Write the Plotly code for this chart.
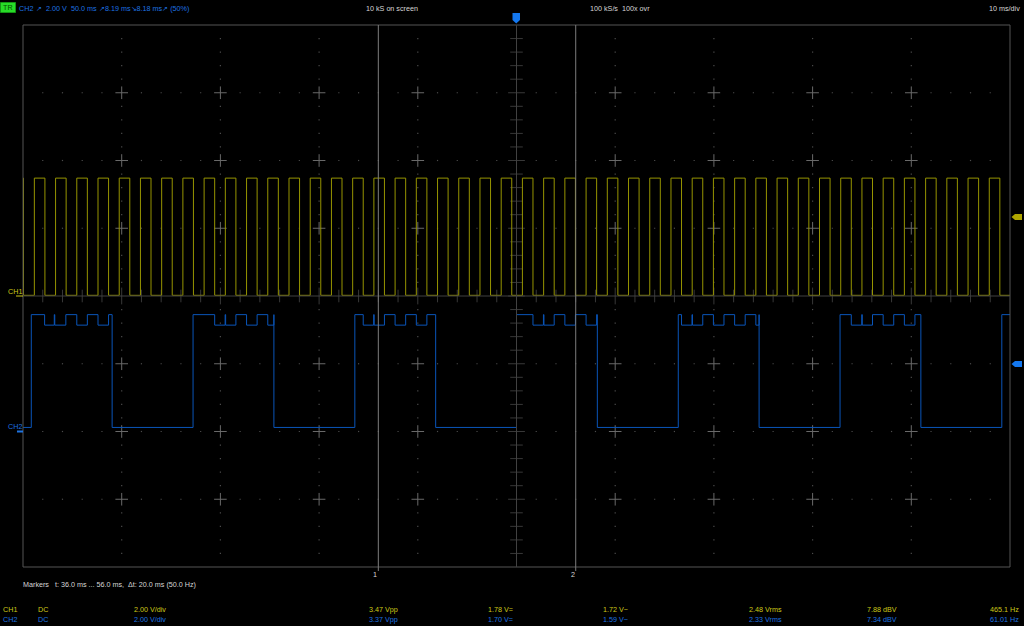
import plotly.graph_objects as go

# ---------------- data ----------------
T_RANGE = [0.0, 100.0]          # ms, 10 ms/div
DIV_RANGE = [-4.0, 4.0]         # vertical divisions
VOLT_PER_DIV = 2.0
CH1_OFFSET_DIV = 0.0
CH2_OFFSET_DIV = -2.0

ch1_low_v = 0.02
ch1_high_v = 3.48
ch1_rise_ms = [1.15, 3.30, 5.45, 7.60, 9.75, 11.90, 14.05, 16.20, 18.35, 20.50,
               22.65, 24.80, 26.95, 29.10, 31.25, 33.40, 35.55, 37.70, 39.85, 42.00,
               44.15, 46.30, 48.45, 50.60, 52.75, 54.90, 57.05, 59.20, 61.35, 63.50,
               65.65, 67.80, 69.95, 72.10, 74.25, 76.40, 78.55, 80.70, 82.85, 85.00,
               87.15, 89.30, 91.45, 93.60, 95.75, 97.90]
ch1_fall_ms = [2.22, 4.37, 6.52, 8.67, 10.82, 12.97, 15.12, 17.27, 19.42, 21.57,
               23.72, 25.87, 28.02, 30.17, 32.32, 34.47, 36.62, 38.77, 40.92, 43.07,
               45.22, 47.37, 49.52, 51.67, 53.82, 55.97, 58.12, 60.27, 62.42, 64.57,
               66.72, 68.87, 71.02, 73.17, 75.32, 77.47, 79.62, 81.77, 83.92, 86.07,
               88.22, 90.37, 92.52, 94.67, 96.82, 98.97]
ch1_first_fall_ms = 0.05

ch2_low_v = 0.12
ch2_high_v = 3.45
ch2_dip_v = 3.14
ch2_rise_ms = [0.84, 17.23, 33.62, 50.00, 66.39, 82.78, 99.17]
ch2_fall_ms = [9.03, 25.42, 41.81, 58.19, 74.58, 90.97]
# ripple dips on the CH2 high level, one list per high segment (start, end in ms)
ch2_dips_ms = [
    [(2.19, 3.17), (3.22, 4.34), (5.45, 6.52), (7.60, 8.67)],
    [(19.42, 20.48), (20.53, 21.57), (22.65, 23.72), (24.80, 25.42)],
    [(34.47, 35.53), (35.58, 36.62), (37.70, 38.77), (39.85, 40.92)],
    [(51.67, 52.73), (52.78, 53.82), (54.90, 55.97), (57.05, 58.12)],
    [(66.72, 67.78), (67.83, 68.87), (69.95, 71.02), (72.10, 73.17), (74.25, 74.58)],
    [(83.92, 84.98), (85.03, 86.07), (87.15, 88.22), (89.30, 90.37)],
    [],
]

markers_ms = [36.0, 56.0]
marker_labels = ["1", "2"]

header_items = [
    ("CH2", 19, "blue"), ("\u2197", 36, "blue"), ("2.00 V", 46, "blue"),
    ("50.0 ms", 71, "blue"), ("\u21978.19 ms\u21988.18 ms\u2197 (50%)", 99, "blue"),
    ("10 kS on screen", 366, "white"), ("100 kS/s  100x ovr", 590, "white"),
]
header_right = "10 ms/div"

meas_cols_x = [3, 38, 134, 369, 488, 603, 749, 867, 990]
ch1_meas = ["CH1", "DC", "2.00 V/div", "3.47 Vpp", "1.78 V=", "1.72 V~", "2.48 Vrms", "7.88 dBV", "465.1 Hz"]
ch2_meas = ["CH2", "DC", "2.00 V/div", "3.37 Vpp", "1.70 V=", "1.59 V~", "2.33 Vrms", "7.34 dBV", "61.01 Hz"]
markers_text = "Markers   t: 36.0 ms ... 56.0 ms,  \u0394t: 20.0 ms (50.0 Hz)"

# ---------------- styles ----------------
W, H = 1024, 626
L, R, T, B = 23, 1010, 25, 567
YEL_TRACE = "rgb(150,148,0)"
BLUE_TRACE = "rgb(10,85,185)"
YEL_TXT = "rgb(205,200,25)"
BLUE_TXT = "rgb(30,115,225)"
WHITE_TXT = "rgb(215,215,215)"
FONT = "Liberation Sans, Arial, sans-serif"
FS = 7.2
XPAD = 1.0


def px(xp):
    return (xp - L) / (R - L)


def py(yp):
    return (B - yp) / (B - T)


def v2d(v, off):
    return v / VOLT_PER_DIV + off


# ---------------- build waveforms ----------------
x1 = [T_RANGE[0], ch1_first_fall_ms]
y1 = [v2d(ch1_high_v, CH1_OFFSET_DIV), v2d(ch1_low_v, CH1_OFFSET_DIV)]
for r, f in zip(ch1_rise_ms, ch1_fall_ms):
    x1 += [r, f]
    y1 += [v2d(ch1_high_v, CH1_OFFSET_DIV), v2d(ch1_low_v, CH1_OFFSET_DIV)]
x1.append(T_RANGE[1])
y1.append(v2d(ch1_low_v, CH1_OFFSET_DIV))

x2 = [T_RANGE[0]]
y2 = [v2d(ch2_low_v, CH2_OFFSET_DIV)]
for i, r in enumerate(ch2_rise_ms):
    x2.append(r)
    y2.append(v2d(ch2_high_v, CH2_OFFSET_DIV))
    for a, b in ch2_dips_ms[i]:
        x2 += [a, b]
        y2 += [v2d(ch2_dip_v, CH2_OFFSET_DIV), v2d(ch2_high_v, CH2_OFFSET_DIV)]
    if i < len(ch2_fall_ms):
        x2.append(ch2_fall_ms[i])
        y2.append(v2d(ch2_low_v, CH2_OFFSET_DIV))
x2.append(T_RANGE[1])
y2.append(y2[-1])

fig = go.Figure()

# grid dots
dx, dy = [], []
for i in range(1, 10):
    if i == 5:
        continue
    t = i * 10.0
    for k in range(-20, 21):
        if k % 5:
            dx.append(t)
            dy.append(k * 0.2)
for j in range(-3, 4):
    if j == 0:
        continue
    for k in range(0, 51):
        if k % 5:
            dx.append(k * 2.0)
            dy.append(float(j))
fig.add_trace(go.Scatter(x=dx, y=dy, mode="markers", hoverinfo="skip",
                         marker=dict(symbol="square", size=1.2, color="rgb(75,75,75)", line=dict(width=0))))
# crosses
cx, cy = [], []
for i in range(1, 10):
    if i == 5:
        continue
    for j in range(-3, 4):
        if j == 0:
            continue
        cx.append(i * 10.0)
        cy.append(float(j))
fig.add_trace(go.Scatter(x=cx, y=cy, mode="markers", hoverinfo="skip",
                         marker=dict(symbol="cross-thin", size=9, line=dict(width=1, color="rgb(105,105,105)"))))
# centre axis ticks
tx = [50.0] * 39
ty = [k * 0.2 for k in range(-19, 20)]
fig.add_trace(go.Scatter(x=tx, y=ty, mode="markers", hoverinfo="skip",
                         marker=dict(symbol="line-ew", size=[12 if k % 5 == 0 else 9 for k in range(-19, 20)],
                                     line=dict(width=1, color="rgb(80,80,80)"))))
hx = [k * 2.0 for k in range(1, 50)]
hy = [0.0] * len(hx)
fig.add_trace(go.Scatter(x=hx, y=hy, mode="markers", hoverinfo="skip",
                         marker=dict(symbol="line-ns", size=[12 if k % 5 == 0 else 9 for k in range(1, 50)],
                                     line=dict(width=1, color="rgb(80,80,80)"))))

fig.add_trace(go.Scatter(x=x1, y=y1, mode="lines", line=dict(color=YEL_TRACE, width=1, shape="hv"),
                         hoverinfo="skip"))
fig.add_trace(go.Scatter(x=x2, y=y2, mode="lines", line=dict(color=BLUE_TRACE, width=1, shape="hv"),
                         hoverinfo="skip"))

shapes = []
shapes.append(dict(type="rect", xref="paper", yref="paper", x0=0, x1=1, y0=0, y1=1,
                   line=dict(color="rgb(85,85,85)", width=1)))
shapes.append(dict(type="line", xref="x", yref="paper", x0=50, x1=50, y0=0, y1=1,
                   line=dict(color="rgb(65,65,65)", width=1)))
shapes.append(dict(type="line", xref="paper", yref="y", x0=0, x1=1, y0=0, y1=0,
                   line=dict(color="rgb(65,65,65)", width=1)))
for m in markers_ms:
    shapes.append(dict(type="line", xref="x", yref="paper", x0=m, x1=m, y0=py(571), y1=1,
                       line=dict(color="rgb(125,125,125)", width=1)))
shapes.append(dict(type="path", xref="paper", yref="paper",
                   path=f"M {px(512.5)} {py(13)} L {px(520)} {py(13)} L {px(520)} {py(20)} L {px(516.2)} {py(23.5)} L {px(512.5)} {py(20)} Z",
                   fillcolor="rgb(20,120,240)", line=dict(width=0)))
for yy, col in [(217, "rgb(175,165,0)"), (364, "rgb(20,120,240)")]:
    shapes.append(dict(type="path", xref="paper", yref="paper",
                       path=f"M {px(1011.5)} {py(yy)} L {px(1015)} {py(yy-3)} L {px(1022)} {py(yy-3)} L {px(1022)} {py(yy+3)} L {px(1015)} {py(yy+3)} Z",
                       fillcolor=col, line=dict(width=0)))
shapes.append(dict(type="line", xref="paper", yref="y", x0=px(16), x1=px(23), y0=CH1_OFFSET_DIV, y1=CH1_OFFSET_DIV,
                   line=dict(color=YEL_TXT, width=1)))
shapes.append(dict(type="line", xref="paper", yref="y", x0=px(17), x1=px(23), y0=CH2_OFFSET_DIV, y1=CH2_OFFSET_DIV,
                   line=dict(color=BLUE_TXT, width=2)))
shapes.append(dict(type="rect", xref="paper", yref="paper", x0=px(0.5), x1=px(15.5), y0=py(12.5), y1=py(2.5),
                   fillcolor="rgb(40,220,40)", line=dict(color="rgb(20,150,20)", width=1)))

ann = []


def text(s, xp, yp, col, anchor="left", **kw):
    dxp = -XPAD if anchor == "left" else XPAD
    ann.append(dict(text=s, xref="paper", yref="paper", x=px(xp + dxp), y=py(yp), xanchor=anchor, yanchor="middle",
                    showarrow=False, borderpad=0, font=dict(family=FONT, size=FS, color=col), **kw))


colmap = {"blue": BLUE_TXT, "white": WHITE_TXT}
text("TR", 2.5, 7.5, "rgb(0,80,0)")
for s, xp, c in header_items:
    text(s, xp, 8, colmap[c])
text(header_right, 1020, 8, WHITE_TXT, anchor="right")
text(markers_text, 23, 584, WHITE_TXT)
for s, xp in zip(ch1_meas, meas_cols_x):
    text(s, xp, 609, YEL_TXT)
for s, xp in zip(ch2_meas, meas_cols_x):
    text(s, xp, 619, BLUE_TXT)
for m, lab in zip(markers_ms, marker_labels):
    ann.append(dict(text=lab, xref="x", yref="paper", x=m, y=py(574), xanchor="right", yanchor="middle",
                    showarrow=False, borderpad=0, font=dict(family=FONT, size=FS, color=WHITE_TXT)))
text("CH1", 8, 291, YEL_TXT)
text("CH2", 8, 427, BLUE_TXT)

fig.update_layout(
    width=W, height=H, autosize=False,
    margin=dict(l=L, r=W - R, t=T, b=H - B, pad=0),
    paper_bgcolor="black", plot_bgcolor="black",
    showlegend=False,
    xaxis=dict(range=T_RANGE, visible=False, showgrid=False, zeroline=False, fixedrange=True),
    yaxis=dict(range=DIV_RANGE, visible=False, showgrid=False, zeroline=False, fixedrange=True),
    shapes=shapes, annotations=ann,
)

fig.write_html("out.html", config={"displayModeBar": False},
               post_script="document.body.style.margin='0';document.body.style.overflow='hidden';document.body.style.background='black';")
